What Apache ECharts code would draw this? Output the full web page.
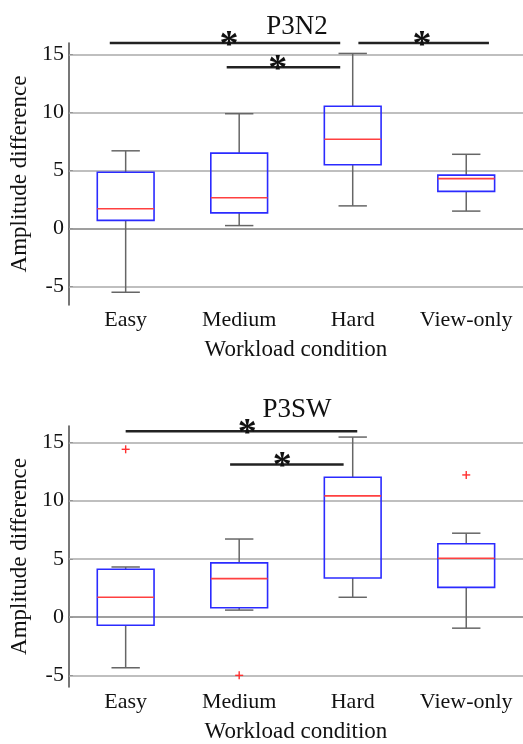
<!DOCTYPE html>
<html>
<head>
<meta charset="utf-8">
<script src="https://cdn.jsdelivr.net/npm/echarts@6/dist/echarts.min.js"></script>
<style>html,body{margin:0;padding:0;background:#fff}#c{width:523px;height:744px}</style>
</head>
<body>
<div id="c"></div>
<script>
const categories = ['Easy', 'Medium', 'Hard', 'View-only'];
const yTicks = [-5, 0, 5, 10, 15];
// box stats: [lower whisker, Q1, median, Q3, upper whisker]
const p3n2Box = [
  [-5.5, 0.7, 1.7, 4.85, 6.7],
  [0.25, 1.35, 2.65, 6.5, 9.9],
  [1.95, 5.5, 7.7, 10.55, 15.1],
  [1.5, 3.2, 4.3, 4.6, 6.4]
];
const p3n2Outliers = [];
const p3n2Lines = [[0.86, 2.89, 16.0], [3.05, 4.2, 16.0], [1.89, 2.89, 13.9]];
const p3n2Stars = [[1.91, 16.0], [3.61, 16.0], [2.34, 13.9]];

const p3swBox = [
  [-4.35, -0.7, 1.7, 4.1, 4.3],
  [0.6, 0.8, 3.3, 4.65, 6.7],
  [1.7, 3.35, 10.4, 12.0, 15.45],
  [-0.95, 2.55, 5.05, 6.3, 7.2]
];
const p3swOutliers = [[0, 14.4], [1, -5.0], [3, 12.2]];
const p3swLines = [[1.0, 3.04, 15.95], [1.92, 2.92, 13.1]];
const p3swStars = [[2.07, 15.95], [2.38, 13.1]];

const FONT = 'Liberation Serif';
const chart = echarts.init(document.getElementById('c'), null, {renderer: 'canvas'});

function renderBox(params, api) {
  const i = api.value(0);
  const band = api.size([1, 0])[0];
  const bw = band * 0.5, cw = band * 0.25;
  const lw = api.coord([i, api.value(1)]);
  const q1 = api.coord([i, api.value(2)]);
  const md = api.coord([i, api.value(3)]);
  const q3 = api.coord([i, api.value(4)]);
  const uw = api.coord([i, api.value(5)]);
  const x = q1[0];
  const wStyle = {stroke: '#666', lineWidth: 1.5, fill: null};
  return {
    type: 'group',
    children: [
      {type: 'line', shape: {x1: x, y1: q3[1], x2: x, y2: uw[1]}, style: wStyle},
      {type: 'line', shape: {x1: x, y1: q1[1], x2: x, y2: lw[1]}, style: wStyle},
      {type: 'line', shape: {x1: x - cw / 2, y1: uw[1], x2: x + cw / 2, y2: uw[1]}, style: wStyle},
      {type: 'line', shape: {x1: x - cw / 2, y1: lw[1], x2: x + cw / 2, y2: lw[1]}, style: wStyle},
      {type: 'rect', shape: {x: x - bw / 2, y: q3[1], width: bw, height: q1[1] - q3[1]},
        style: {stroke: '#2b2bff', lineWidth: 1.6, fill: null}},
      {type: 'line', shape: {x1: x - bw / 2, y1: md[1], x2: x + bw / 2, y2: md[1]},
        style: {stroke: '#ff4040', lineWidth: 1.6}}
    ]
  };
}
function renderOutlier(params, api) {
  const p = api.coord([api.value(0), api.value(1)]);
  const s = 4;
  const st = {stroke: '#ff3030', lineWidth: 1.4};
  return {type: 'group', children: [
    {type: 'line', shape: {x1: p[0] - s, y1: p[1], x2: p[0] + s, y2: p[1]}, style: st},
    {type: 'line', shape: {x1: p[0], y1: p[1] - s, x2: p[0], y2: p[1] + s}, style: st}
  ]};
}
function renderSigLine(params, api) {
  const a = api.coord([api.value(0), api.value(2)]);
  const b = api.coord([api.value(1), api.value(2)]);
  return {type: 'line', shape: {x1: a[0], y1: a[1], x2: b[0], y2: b[1]},
    style: {stroke: '#222', lineWidth: 2.5}};
}
function renderStar(params, api) {
  const p = api.coord([api.value(0), api.value(1)]);
  return {type: 'text', x: p[0], y: p[1] + 3,
    style: {text: '*', fontSize: 38, fontWeight: 'bold', fontFamily: FONT, fill: '#111',
      align: 'center', verticalAlign: 'middle'}};
}

const panels = [
  {title: 'P3N2', top: 43, height: 262, min: -6.6, max: 16, box: p3n2Box, out: p3n2Outliers,
    lines: p3n2Lines, stars: p3n2Stars, titleTop: 8},
  {title: 'P3SW', top: 426, height: 261, min: -6, max: 16.4, box: p3swBox, out: p3swOutliers,
    lines: p3swLines, stars: p3swStars, titleTop: 391}
];

const option = {
  animation: false,
  backgroundColor: '#fff',
  title: panels.map(p => ({
    text: p.title, left: 292, top: p.titleTop, textAlign: 'center',
    textStyle: {fontFamily: FONT, fontSize: 27, fontWeight: 'normal', color: '#111'}
  })),
  grid: panels.map(p => ({left: 68, top: p.top, width: 456, height: p.height})),
  xAxis: [],
  yAxis: [],
  series: []
};

panels.forEach((p, g) => {
  option.xAxis.push({
    type: 'category', gridIndex: g, data: categories,
    name: 'Workload condition', nameLocation: 'middle', nameGap: 33,
    nameTextStyle: {fontFamily: FONT, fontSize: 23, color: '#111'},
    axisLine: {lineStyle: {color: '#555', width: 1.6}},
    axisTick: {inside: true, alignWithLabel: true, length: 4, lineStyle: {color: '#555'}},
    axisLabel: {fontFamily: FONT, fontSize: 22, color: '#111', margin: 4, interval: 0},
    splitLine: {show: false}
  });
  option.xAxis.push({type: 'value', gridIndex: g, min: 0.5, max: 4.5, show: false});
  option.yAxis.push({
    type: 'value', gridIndex: g, min: p.min, max: p.max,
    name: 'Amplitude difference', nameLocation: 'middle', nameGap: 29,
    nameTextStyle: {fontFamily: FONT, fontSize: 23, color: '#111'},
    axisLine: {show: true, lineStyle: {color: '#555', width: 1.6}},
    axisTick: {show: true, inside: true, length: 4, customValues: yTicks, lineStyle: {color: '#555'}},
    axisLabel: {fontFamily: FONT, fontSize: 22, color: '#111', margin: 5, customValues: yTicks},
    splitLine: {show: false}
  });
  const xc = g * 2, xv = g * 2 + 1;
  option.series.push({
    type: 'line', xAxisIndex: xc, yAxisIndex: g, data: [], silent: true,
    markLine: {silent: true, symbol: ['none', 'none'], label: {show: false},
      lineStyle: {color: '#aaa', width: 1.5, type: 'solid'},
      data: yTicks.map(v => ({yAxis: v}))}
  });
  option.series.push({
    type: 'custom', xAxisIndex: xc, yAxisIndex: g, renderItem: renderBox, clip: false, z: 5,
    encode: {x: 0, y: [1, 2, 3, 4, 5]},
    data: p.box.map((b, i) => [i].concat(b))
  });
  option.series.push({
    type: 'custom', xAxisIndex: xc, yAxisIndex: g, renderItem: renderOutlier, clip: false, z: 6,
    encode: {x: 0, y: 1}, data: p.out
  });
  option.series.push({
    type: 'custom', xAxisIndex: xv, yAxisIndex: g, renderItem: renderSigLine, clip: false, z: 6,
    encode: {x: [0, 1], y: 2}, data: p.lines
  });
  option.series.push({
    type: 'custom', xAxisIndex: xv, yAxisIndex: g, renderItem: renderStar, clip: false, z: 7,
    encode: {x: 0, y: 1}, data: p.stars
  });
});

chart.setOption(option);
</script>
</body>
</html>
